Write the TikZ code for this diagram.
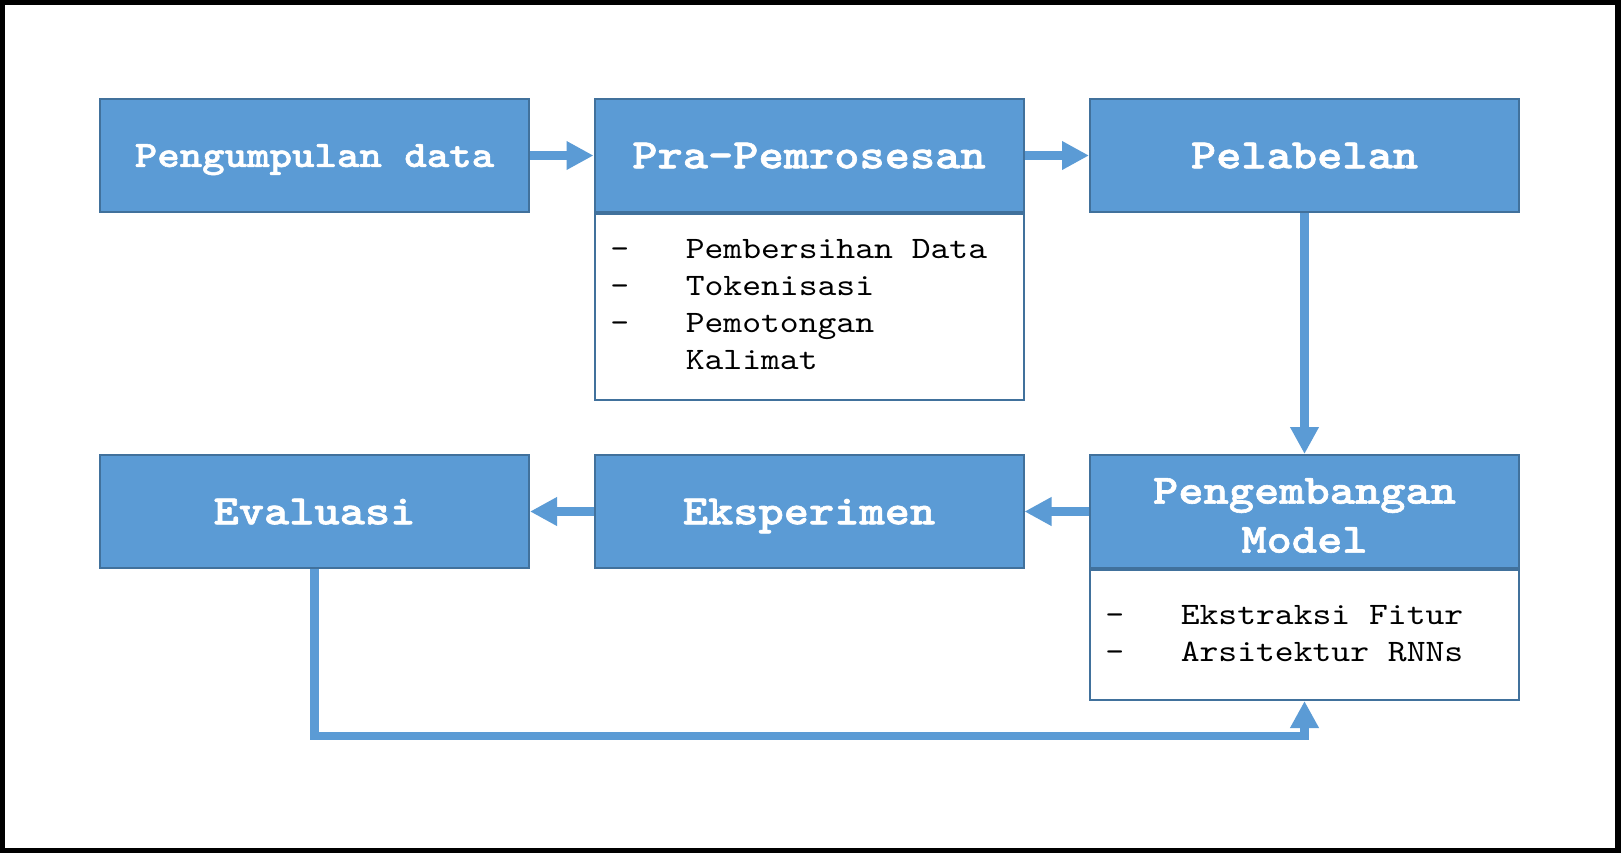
\documentclass[tikz,border=0pt]{standalone}
\usepackage{fontspec}
\newfontfamily\titlef{lmmonolt10-bold}[Extension=.otf, FakeStretch=1.15, FakeBold=1.5]
\newfontfamily\bodyf{lmmono10-regular}[Extension=.otf, FakeStretch=1.15]
\usetikzlibrary{arrows.meta}
\definecolor{boxblue}{HTML}{5B9BD5}
\definecolor{boxedge}{HTML}{41719C}
\begin{document}
\begin{tikzpicture}[x=0.5pt,y=-0.5pt,
  headbox/.style={draw=boxedge, line width=1pt, fill=boxblue, minimum width=214.5pt,
    minimum height=56.5pt, inner sep=0pt, text=white, align=center,
    font=\titlef\fontsize{20.9}{24.5}\selectfont},
  oneline/.style={text height=12.75pt, text depth=0pt},
  bodybox/.style={draw=boxedge, line width=1pt, fill=white, minimum width=214.5pt,
    inner sep=0pt, anchor=north},
  bodytext/.style={anchor=base west, inner sep=0pt, font=\bodyf\fontsize{15.6}{18.6}\selectfont},
  flow/.style={draw=boxblue, line width=4.25pt, line join=miter,
    -{Triangle[length=13.5pt,width=13.5pt]}}]
\fill[black] (0,0) rectangle (1621,853);
\fill[white] (5,5) rectangle (1615,848);
\useasboundingbox (0,0) rectangle (1621,853);

% top row
\node[headbox, oneline, text height=11.4pt, font=\titlef\fontsize{18.6}{22}\selectfont] (collect) at (314.5,155.5) {Pengumpulan data};
\node[headbox, oneline] (pre) at (809,155.5) {Pra-Pemrosesan};
\node[headbox, oneline] (label) at (1304.5,155.5) {Pelabelan};
\node[bodybox, minimum height=93pt] (prebody) at (pre.south) {};

% bottom row
\node[headbox] (model) at (1304.5,511.5) {};
\node[text=white, align=center, inner sep=0pt, font=\titlef\fontsize{20.9}{24.5}\selectfont] (modeltitle) at (1304.5,515.5) {Pengembangan\\Model};
\node[headbox, oneline] (exp) at (809,511.5) {Eksperimen};
\node[headbox, oneline] (eval) at (314.5,511.5) {Evaluasi};
\node[bodybox, minimum height=65pt] (modelbody) at (model.south) {};

% body texts
\node[bodytext] (pretext) at (610,258) {\vtop{\hbox{-\ \ \ Pembersihan Data}\hbox{-\ \ \ Tokenisasi}\hbox{-\ \ \ Pemotongan}\hbox{\ \ \ \ Kalimat}}};
\node[bodytext] (modeltext) at (1105,624) {\vtop{\hbox{-\ \ \ Ekstraksi Fitur}\hbox{-\ \ \ Arsitektur RNNs}}};

% connectors
\coordinate (loop) at (1304.5,736);
\draw[flow] (collect.east) -- (pre.west);
\draw[flow] (pre.east) -- (label.west);
\draw[flow] (label.south) -- (model.north);
\draw[flow] (model.west) -- (exp.east);
\draw[flow] (exp.west) -- (eval.east);
\draw[flow] (eval.south) |- (loop) -- (modelbody.south);
\end{tikzpicture}
\end{document}
